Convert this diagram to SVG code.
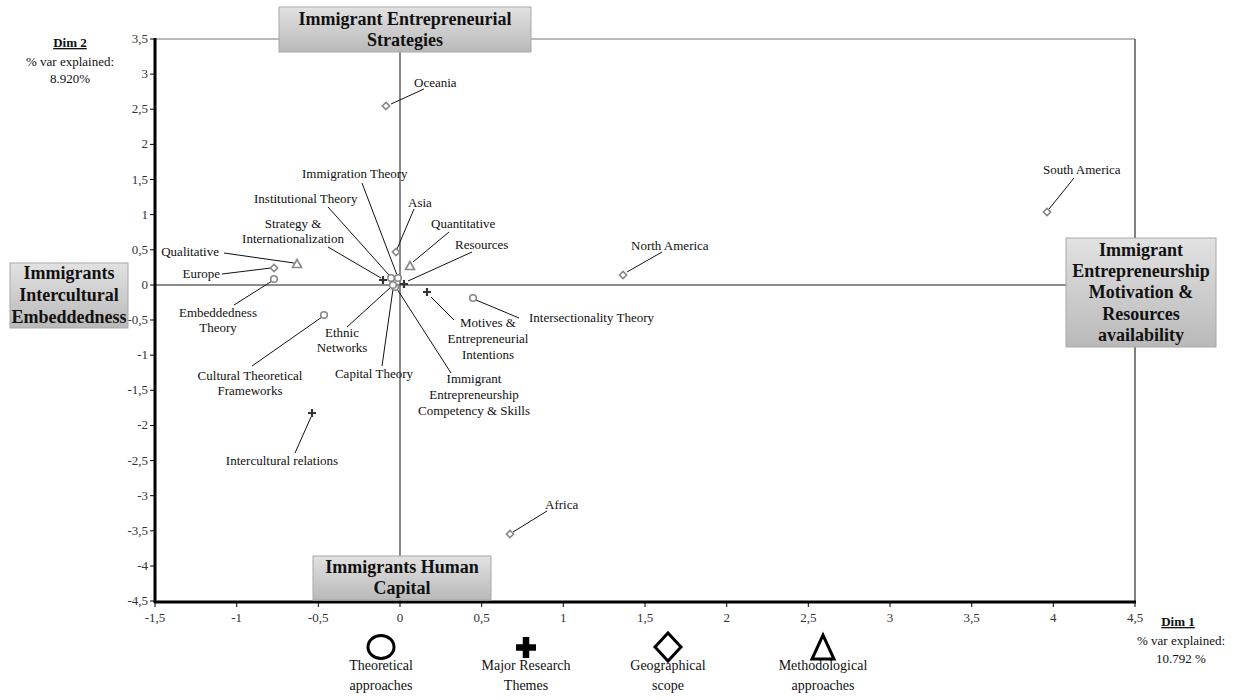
<svg xmlns="http://www.w3.org/2000/svg" width="1240" height="700" viewBox="0 0 1240 700" font-family="'Liberation Serif', 'Times New Roman', 'DejaVu Serif', serif">
<defs>
<linearGradient id="boxg" x1="0" y1="0" x2="0" y2="1">
<stop offset="0" stop-color="#e2e2e2"/>
<stop offset="1" stop-color="#b9b9b9"/>
</linearGradient>
<path id="dia" d="M0,-3.6 L3.6,0 L0,3.6 L-3.6,0Z" class="mk"/>
<circle id="cir" r="3.3" class="mk"/>
<path id="tri" d="M0,-4.5 L4.5,3.5 L-4.5,3.5Z" class="mk"/>
<path id="crs" d="M-4,0 H4 M0,-4 V4" class="mkc"/>
</defs>
<style>
text{font-family:'Liberation Serif','Times New Roman','DejaVu Serif',serif}
.t{font-size:13px;fill:#111}
.tk{font-size:13px;fill:#333}
.lg{font-size:14px;fill:#111;text-anchor:middle}
.bx{font-size:18px;font-weight:bold;fill:#111;text-anchor:middle}
.box{fill:url(#boxg);stroke:#a8a8a8;stroke-width:1}
.mk{fill:#fff;stroke:#888;stroke-width:1.6}
.mkc{fill:none;stroke:#333;stroke-width:2.2}
.ld{stroke:#111;stroke-width:1;fill:none}
.m{text-anchor:middle}
.e{text-anchor:end}
</style>
<rect x="0" y="0" width="1240" height="700" fill="#fff"/>
<g id="axes">
<line x1="155" y1="39" x2="1135" y2="39" stroke="#777" stroke-width="1.2"/>
<line x1="1135" y1="39" x2="1135" y2="602" stroke="#555" stroke-width="1.5"/>
<line x1="155" y1="285" x2="1135" y2="285" stroke="#666" stroke-width="1.4"/>
<line x1="400" y1="39" x2="400" y2="602" stroke="#555" stroke-width="1.4"/>
<line x1="155" y1="38" x2="155" y2="603" stroke="#000" stroke-width="3"/>
<line x1="154" y1="602" x2="1136" y2="602" stroke="#000" stroke-width="3"/>
<path d="M150,39H155M150,74.1H155M150,109.2H155M150,144.4H155M150,179.5H155M150,214.6H155M150,249.8H155M150,285H155M150,320H155M150,355.2H155M150,390.3H155M150,425.5H155M150,460.6H155M150,495.7H155M150,530.8H155M150,566H155M150,601H155" stroke="#000" stroke-width="1"/>
<path d="M155,602V607M236.7,602V607M318.3,602V607M400,602V607M481.7,602V607M563.3,602V607M645,602V607M726.7,602V607M808.3,602V607M890,602V607M971.7,602V607M1053.3,602V607M1135,602V607" stroke="#000" stroke-width="1"/>
<g class="tk e">
<text x="148" y="43">3,5</text><text x="148" y="78">3</text><text x="148" y="113">2,5</text><text x="148" y="148">2</text><text x="148" y="184">1,5</text><text x="148" y="219">1</text><text x="148" y="254">0,5</text><text x="148" y="289">0</text><text x="148" y="324">-0,5</text><text x="148" y="359">-1</text><text x="148" y="394">-1,5</text><text x="148" y="429">-2</text><text x="148" y="465">-2,5</text><text x="148" y="500">-3</text><text x="148" y="535">-3,5</text><text x="148" y="570">-4</text><text x="148" y="605">-4,5</text>
</g>
<g class="tk m">
<text x="155" y="622">-1,5</text><text x="236.7" y="622">-1</text><text x="318.3" y="622">-0,5</text><text x="400" y="622">0</text><text x="481.7" y="622">0,5</text><text x="563.3" y="622">1</text><text x="645" y="622">1,5</text><text x="726.7" y="622">2</text><text x="808.3" y="622">2,5</text><text x="890" y="622">3</text><text x="971.7" y="622">3,5</text><text x="1053.3" y="622">4</text><text x="1135" y="622">4,5</text>
</g>
</g>
<g id="dim2">
<text class="t m" x="70" y="47" font-size="14" font-weight="bold" text-decoration="underline">Dim 2</text>
<text class="t m" x="70" y="66" font-size="14">% var explained:</text>
<text class="t m" x="70" y="83" font-size="14">8.920%</text>
</g>
<g id="dim1">
<text class="t m" x="1178" y="626" font-size="14" font-weight="bold" text-decoration="underline">Dim 1</text>
<text class="t m" x="1181" y="645" font-size="14">% var explained:</text>
<text class="t m" x="1181" y="663" font-size="14">10.792 %</text>
</g>
<g id="connectors">
<line class="ld" x1="391" y1="104" x2="424" y2="89"/>
<line class="ld" x1="1049" y1="209" x2="1074" y2="178"/>
<line class="ld" x1="627" y1="272" x2="662" y2="252"/>
<line class="ld" x1="513" y1="532" x2="547" y2="511"/>
<line class="ld" x1="362" y1="183" x2="397" y2="275"/>
<line class="ld" x1="328" y1="207" x2="389" y2="275"/>
<line class="ld" x1="397" y1="249" x2="414" y2="209"/>
<line class="ld" x1="413" y1="262" x2="449" y2="232"/>
<line class="ld" x1="328" y1="247" x2="381" y2="278"/>
<line class="ld" x1="408" y1="281" x2="472" y2="252"/>
<line class="ld" x1="224" y1="253" x2="294" y2="263"/>
<line class="ld" x1="222" y1="274" x2="271" y2="268"/>
<line class="ld" x1="234" y1="305" x2="272" y2="281"/>
<line class="ld" x1="252" y1="366" x2="322" y2="317"/>
<line class="ld" x1="347" y1="327" x2="391" y2="287"/>
<line class="ld" x1="382" y1="366" x2="393" y2="289"/>
<line class="ld" x1="451" y1="373" x2="397" y2="289"/>
<line class="ld" x1="431" y1="297" x2="454" y2="320"/>
<line class="ld" x1="476" y1="300" x2="519" y2="318"/>
<line class="ld" x1="295" y1="453" x2="311" y2="417"/>
</g>
<g id="node-oceania"><use href="#dia" x="386" y="106"/><text class="t" x="414" y="87">Oceania</text></g>
<g id="node-south-america"><use href="#dia" x="1047" y="212"/><text class="t" x="1043" y="174">South America</text></g>
<g id="node-north-america"><use href="#dia" x="623" y="275"/><text class="t" x="631" y="250">North America</text></g>
<g id="node-africa"><use href="#dia" x="510" y="534"/><text class="t" x="545" y="509">Africa</text></g>
<g id="node-asia"><use href="#dia" x="396" y="252"/><text class="t" x="408" y="207">Asia</text></g>
<g id="node-europe"><use href="#dia" x="274" y="268"/><text class="t e" x="220" y="278">Europe</text></g>
<g id="node-qualitative"><use href="#tri" x="297" y="264"/><text class="t e" x="219" y="256">Qualitative</text></g>
<g id="node-quantitative"><use href="#tri" x="410" y="266"/><text class="t" x="431" y="228">Quantitative</text></g>
<g id="node-embeddedness"><use href="#cir" x="274" y="279"/><text class="t m" x="218" y="317">Embeddedness</text><text class="t m" x="218" y="332">Theory</text></g>
<g id="node-cultural"><use href="#cir" x="324" y="315"/><text class="t m" x="250" y="380">Cultural Theoretical</text><text class="t m" x="250" y="395">Frameworks</text></g>
<g id="node-intersectionality"><use href="#cir" x="473" y="298"/><text class="t" x="529" y="322">Intersectionality Theory</text></g>
<g id="node-institutional"><use href="#cir" x="391" y="278"/><text class="t" x="254" y="203">Institutional Theory</text></g>
<g id="node-immigration"><use href="#cir" x="398" y="278"/><text class="t" x="302" y="178">Immigration Theory</text></g>
<g id="node-capital"><use href="#cir" x="395" y="287"/><text class="t m" x="374" y="378">Capital Theory</text></g>
<g id="node-ethnic"><use href="#cir" x="393" y="285"/><text class="t m" x="342" y="337">Ethnic</text><text class="t m" x="342" y="352">Networks</text></g>
<g id="node-strategy"><use href="#crs" x="383" y="280"/><text class="t m" x="293" y="228">Strategy &amp;</text><text class="t m" x="293" y="243">Internationalization</text></g>
<g id="node-resources"><use href="#crs" x="404" y="284"/><text class="t" x="455" y="249">Resources</text></g>
<g id="node-motives"><use href="#crs" x="427" y="292"/><text class="t m" x="488" y="327">Motives &amp;</text><text class="t m" x="488" y="343">Entrepreneurial</text><text class="t m" x="488" y="359">Intentions</text></g>
<g id="node-competency"><text class="t m" x="474" y="383">Immigrant</text><text class="t m" x="474" y="399">Entrepreneurship</text><text class="t m" x="474" y="415">Competency &amp; Skills</text></g>
<g id="node-intercultural"><use href="#crs" x="312" y="413"/><text class="t m" x="282" y="465">Intercultural relations</text></g>
<g id="box-top"><rect class="box" x="279" y="7" width="252" height="45"/><text class="bx" x="405" y="25">Immigrant Entrepreneurial</text><text class="bx" x="405" y="46">Strategies</text></g>
<g id="box-left"><rect class="box" x="10" y="263" width="118" height="65"/><text class="bx" x="69" y="279">Immigrants</text><text class="bx" x="69" y="301">Intercultural</text><text class="bx" x="69" y="323">Embeddedness</text></g>
<g id="box-right"><rect class="box" x="1066" y="238" width="150" height="109"/><text class="bx" x="1141" y="256">Immigrant</text><text class="bx" x="1141" y="277">Entrepreneurship</text><text class="bx" x="1141" y="298">Motivation &amp;</text><text class="bx" x="1141" y="320">Resources</text><text class="bx" x="1141" y="341">availability</text></g>
<g id="box-bottom"><rect class="box" x="313" y="556" width="178" height="44"/><text class="bx" x="402" y="573">Immigrants Human</text><text class="bx" x="402" y="594">Capital</text></g>
<g id="legend">
<g id="legend-theoretical"><ellipse cx="381" cy="647" rx="13" ry="11.5" fill="none" stroke="#000" stroke-width="3"/><text class="lg" x="381" y="670">Theoretical</text><text class="lg" x="381" y="690">approaches</text></g>
<g id="legend-themes"><path d="M526,637V658M516,647.5H536" stroke="#000" stroke-width="6.5" fill="none"/><text class="lg" x="526" y="670">Major Research</text><text class="lg" x="526" y="690">Themes</text></g>
<g id="legend-geo"><path d="M668,633 L681,647 L668,661 L655,647Z" fill="none" stroke="#000" stroke-width="3"/><text class="lg" x="668" y="670">Geographical</text><text class="lg" x="668" y="690">scope</text></g>
<g id="legend-method"><path d="M823,635 L834,659 L812,659Z" fill="none" stroke="#000" stroke-width="3"/><text class="lg" x="823" y="670">Methodological</text><text class="lg" x="823" y="690">approaches</text></g>
</g>
</svg>
